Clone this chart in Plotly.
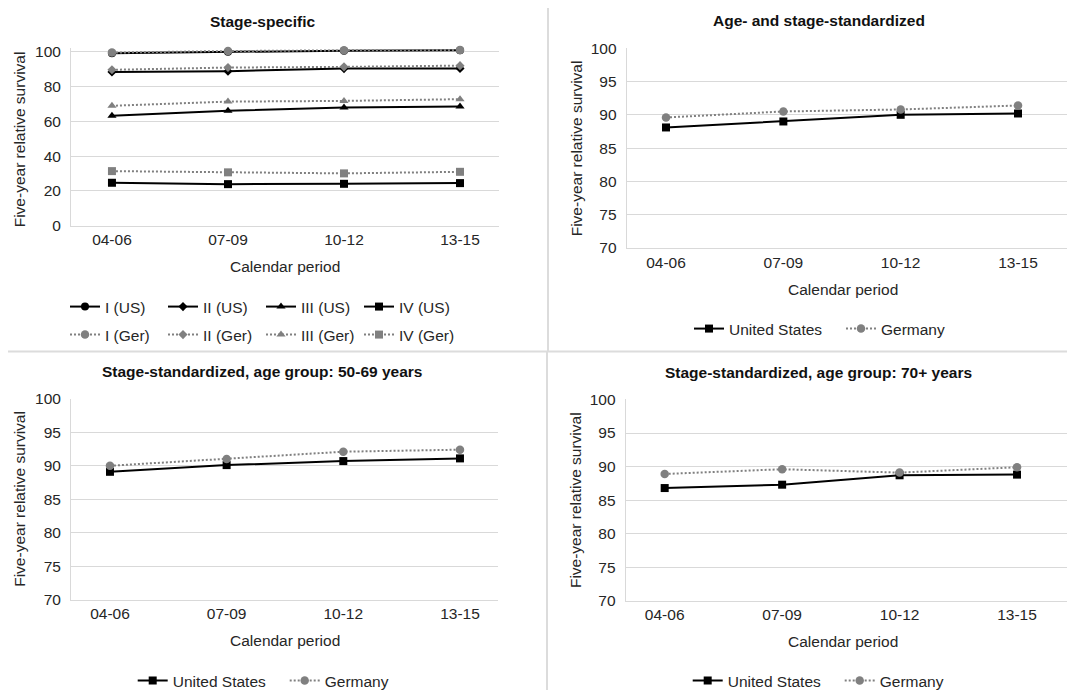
import plotly.graph_objects as go

W, H = 1075, 690
OFF_X, OFF_Y = 8, 8  # page body margin offset of the rendered figure

periods = ["04-06", "07-09", "10-12", "13-15"]

# Stage-specific (top-left)
us_I = [99.3, 100.1, 100.7, 101.0]
us_II = [88.5, 88.9, 90.4, 90.5]
us_III = [63.2, 66.1, 68.0, 68.6]
us_IV = [24.7, 23.9, 24.1, 24.5]
ger_I = [99.6, 100.5, 100.9, 101.1]
ger_II = [89.7, 91.0, 91.4, 92.1]
ger_III = [69.0, 71.4, 71.8, 72.8]
ger_IV = [31.4, 30.7, 30.1, 31.0]

# Age- and stage-standardized (top-right)
us_all = [88.1, 89.0, 90.0, 90.2]
ger_all = [89.6, 90.5, 90.8, 91.4]

# Stage-standardized, 50-69 (bottom-left)
us_5069 = [89.1, 90.1, 90.7, 91.1]
ger_5069 = [90.0, 91.0, 92.1, 92.4]

# Stage-standardized, 70+ (bottom-right)
us_70 = [86.8, 87.3, 88.7, 88.8]
ger_70 = [88.9, 89.6, 89.1, 89.9]

FONT = "Liberation Sans, Arial, sans-serif"
TXT = "#262626"
GRID = "#d9d9d9"
GER = "#808080"
DOT = "2px,2px"


def px(x):
    return (x - OFF_X) / W


def py(y):
    return 1 - (y - OFF_Y) / H


fig = go.Figure()


def add_pair(xa, ya, legend, us, ger, us_name="United States", ger_name="Germany"):
    fig.add_trace(go.Scatter(x=periods, y=us, name=us_name, mode="lines+markers",
                             line=dict(color="black", width=2),
                             marker=dict(symbol="square", size=8, color="black"),
                             xaxis=xa, yaxis=ya, legend=legend, cliponaxis=False))
    fig.add_trace(go.Scatter(x=periods, y=ger, name=ger_name, mode="lines+markers",
                             line=dict(color=GER, width=2, dash=DOT),
                             marker=dict(symbol="circle", size=8.5, color=GER),
                             xaxis=xa, yaxis=ya, legend=legend, cliponaxis=False))


# top-left stage-specific
us_sets = [("I (US)", us_I, "circle", 8), ("II (US)", us_II, "diamond", 7),
           ("III (US)", us_III, "triangle-up", 8), ("IV (US)", us_IV, "square", 8)]
ger_sets = [("I (Ger)", ger_I, "circle", 8.5), ("II (Ger)", ger_II, "diamond", 7),
            ("III (Ger)", ger_III, "triangle-up", 8), ("IV (Ger)", ger_IV, "square", 8)]
for name, vals, sym, sz in us_sets:
    fig.add_trace(go.Scatter(x=periods, y=vals, name=name, mode="lines+markers",
                             line=dict(color="black", width=2),
                             marker=dict(symbol=sym, size=sz, color="black"),
                             xaxis="x", yaxis="y", legend="legend", cliponaxis=False))
for name, vals, sym, sz in ger_sets:
    fig.add_trace(go.Scatter(x=periods, y=vals, name=name, mode="lines+markers",
                             line=dict(color=GER, width=2, dash=DOT),
                             marker=dict(symbol=sym, size=sz, color=GER),
                             xaxis="x", yaxis="y", legend="legend2", cliponaxis=False))

add_pair("x2", "y2", "legend3", us_all, ger_all)
add_pair("x3", "y3", "legend4", us_5069, ger_5069)
add_pair("x4", "y4", "legend5", us_70, ger_70)

tickfont = dict(family=FONT, size=15.5, color=TXT)


def xax(dom, rng, anchor):
    return dict(domain=[px(dom[0]), px(dom[1])], type="category", categoryarray=periods,
                range=rng, showgrid=False, showline=True, linecolor=GRID, linewidth=1,
                ticks="", tickfont=tickfont, fixedrange=True, zeroline=False,
                automargin=False, anchor=anchor)


def yax(dom, rng, tv, anchor):
    return dict(domain=[py(dom[1]), py(dom[0])], range=rng, tickvals=tv,
                showgrid=True, gridcolor=GRID, gridwidth=1, showline=True,
                linecolor=GRID, linewidth=1, ticks="", tickfont=tickfont,
                zeroline=False, anchor=anchor, automargin=False, fixedrange=True,
                ticklabelstandoff=6)


Y5 = [70, 75, 80, 85, 90, 95, 100]
layout = dict(
    template="none",
    width=W, height=H, margin=dict(l=0, r=0, t=0, b=0, pad=0),
    plot_bgcolor="white", paper_bgcolor="white",
    font=dict(family=FONT, color=TXT),
    xaxis=xax((71, 499), [-0.353, 3.336], "y"),
    yaxis=yax((48.5, 226), [0, 102], [0, 20, 40, 60, 80, 100], "x"),
    xaxis2=xax((626.7, 1070), [-0.335, 3.443], "y2"),
    yaxis2=yax((48.3, 248.3), [70, 100], Y5, "x2"),
    xaxis3=xax((71, 498), [-0.334, 3.326], "y3"),
    yaxis3=yax((399.3, 600.7), [70, 100], Y5, "x3"),
    xaxis4=xax((625.7, 1070), [-0.332, 3.451], "y4"),
    yaxis4=yax((400, 601.7), [70, 100], Y5, "x4"),
    showlegend=True,
)

legfont = dict(family=FONT, size=15.5, color=TXT)


def leg(x, y, ew):
    return dict(x=px(x), y=py(y), xanchor="left", yanchor="middle", orientation="h",
                font=legfont, bgcolor="rgba(0,0,0,0)", borderwidth=0,
                entrywidth=ew, entrywidthmode="pixels", tracegroupgap=0,
                itemclick=False, itemdoubleclick=False)


layout["legend"] = leg(65, 307, 53)
layout["legend2"] = leg(65, 335, 53)
layout["legend3"] = leg(689, 329, 107)
layout["legend4"] = leg(132.7, 681, 107)
layout["legend5"] = leg(687.7, 681.5, 107)

fig.update_layout(**layout)

# Titles and axis titles
ann = []
titles = [("Stage-specific", 262, 22), ("Age- and stage-standardized", 819, 21),
          ("Stage-standardized, age group: 50-69 years", 262, 372),
          ("Stage-standardized, age group: 70+ years", 818, 373)]
for t, x, y in titles:
    ann.append(dict(text="<b>%s</b>" % t, x=px(x), y=py(y), xref="paper", yref="paper",
                    xanchor="center", yanchor="middle", showarrow=False,
                    font=dict(family=FONT, size=15.5, color="#111111")))
for x, y in [(284.7, 266.7), (842.7, 290), (284.7, 641.7), (842.7, 642.7)]:
    ann.append(dict(text="Calendar period", x=px(x), y=py(y), xref="paper", yref="paper",
                    xanchor="center", yanchor="middle", showarrow=False,
                    font=dict(family=FONT, size=15.5, color=TXT)))
for x, y in [(19.5, 140), (576, 148.5), (19.5, 500), (575, 500.8)]:
    ann.append(dict(text="Five-year relative survival", x=px(x), y=py(y), xref="paper",
                    yref="paper", xanchor="center", yanchor="middle", showarrow=False,
                    textangle=-90, font=dict(family=FONT, size=15.5, color=TXT)))
fig.update_layout(annotations=ann)

# panel separators
sep = dict(color="#dcdcdc", width=2)
fig.add_shape(type="line", xref="paper", yref="paper", x0=px(548), x1=px(548),
              y0=py(0), y1=py(352), line=sep)
fig.add_shape(type="line", xref="paper", yref="paper", x0=px(547), x1=px(547),
              y0=py(352), y1=py(698), line=sep)
fig.add_shape(type="line", xref="paper", yref="paper", x0=px(8), x1=px(1083),
              y0=py(352), y1=py(352), line=sep)

fig.write_html("out.html")
